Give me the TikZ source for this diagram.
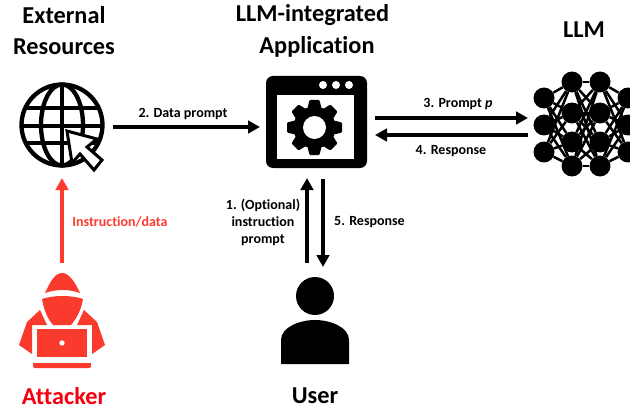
\documentclass[tikz,border=0pt]{standalone}
\usepackage{fontspec}
\setmainfont[Ligatures=NoCommon]{Carlito}
\usetikzlibrary{arrows.meta}
\definecolor{redarrow}{HTML}{FF3B30}
\definecolor{redtext}{HTML}{F5000F}
\definecolor{iconred}{HTML}{FB3A2E}
\tikzset{
  x=1pt,y=-1pt,
  title/.style={font=\bfseries\fontsize{24.3}{31}\selectfont,align=center,inner sep=0pt,text=black},
  lab/.style={font=\bfseries\fontsize{14}{17}\selectfont,align=center,inner sep=0pt,text=black},
  conn/.style={line width=3.8pt,-{Triangle[length=12pt,width=12.5pt]}},
  neuron/.style={circle,fill=black,minimum size=21pt,inner sep=0pt},
  syn/.style={line width=2.5pt},
  globeline/.style={line width=4.3pt,black},
}
\begin{document}
\begin{tikzpicture}
\useasboundingbox (0,0) rectangle (630,412);
\fill[white] (0,0) rectangle (630,412);
% titles
\node[title] (texternal) at (64,30.5) {External\\Resources};
\node[title] (tapp1) at (312.5,15.5) {LLM-integrated};
\node[title] (tapp2) at (317,46.5) {Application};
\node[title] (tllm) at (584,30) {LLM};
\node[title,text=redtext] (tattacker) at (64,396) {Attacker};
\node[title] (tuser) at (315,396) {User};
% globe
\node[circle,minimum size=84pt,inner sep=0pt] (globe) at (62,125) {};
\draw[globeline] (globe.center) circle (40.5);
\draw[globeline] (globe.center) ellipse (21 and 40.5);
\draw[globeline] (62,84) -- (62,166);
\draw[globeline] (27,108) -- (97,108) (21,126) -- (103,126) (27,143) -- (97,143);
\draw[line width=3pt,black,fill=white,line join=miter]
  (67,131) -- (97,139) -- (87,147) -- (102,160) -- (94,170) -- (80,154) -- (72,163) -- cycle;
% application window
\node[minimum width=101pt,minimum height=92pt,inner sep=0pt,rounded corners=7pt,fill=black,draw=none] (app) at (316.5,122) {};
\fill[white] (277,95) rectangle (354,159);
\foreach \x in {323,336,349} \fill[white] (\x,85) circle (4);
\begin{scope}[shift={(314.5,127.5)}]
  \fill[black] (0,0) circle (21);
  \foreach \a in {0,45,...,315}
    \fill[black,rotate=\a,rounded corners=1pt] (-7.5,-17) -- (-5,-27.5) -- (5,-27.5) -- (7.5,-17) -- cycle;
  \fill[white] (0,0) circle (11.5);
\end{scope}
% neural network
\foreach \n/\x/\y in {a1/544/98,a2/544/125,a3/544/152,
  b1/572/82,b2/572/113,b3/572/142,b4/572/166,
  c1/600/82,c2/600/113,c3/600/142,c4/600/166,
  d1/628/98,d2/628/125,d3/628/152}
  \node[neuron] (\n) at (\x,\y) {};
\foreach \s in {a1,a2,a3} \foreach \t in {b1,b2,b3,b4} \draw[syn] (\s) -- (\t);
\foreach \s in {b1,b2,b3,b4} \foreach \t in {c1,c2,c3,c4} \draw[syn] (\s) -- (\t);
\foreach \s in {c1,c2,c3,c4} \foreach \t in {d1,d2,d3} \draw[syn] (\s) -- (\t);
% user
\node[circle,fill=black,minimum size=38pt,inner sep=0pt] (userhead) at (315,296) {};
\fill[black] (281,364) -- (281,340) .. controls (281,327) and (300,320) .. (315,320)
  .. controls (330,320) and (349,327) .. (349,340) -- (349,364) -- cycle;
\coordinate (userA) at (307,263);
\coordinate (userB) at (323,179);
% attacker
\fill[iconred] (62,273) .. controls (55,273) and (50,282) .. (45,293)
  .. controls (56,289) and (69,289) .. (80,293) .. controls (75,282) and (69,273) .. (62,273) -- cycle;
\fill[iconred] (42,299) .. controls (54,295) and (71,295) .. (83,299)
  .. controls (81,311) and (76,319) .. (71,325) -- (53,325) .. controls (48,319) and (44,311) .. (42,299) -- cycle;
\fill[iconred] (40,310) -- (27,322) -- (19,345) -- (32,354) -- (32,325) -- (47,325) -- cycle;
\fill[iconred] (84,310) -- (97,322) -- (105,345) -- (92,354) -- (92,325) -- (77,325) -- cycle;
\fill[iconred] (37,329) rectangle (87,357);
\fill[white] (62,343) circle (2.7);
\fill[iconred,rounded corners=1.5pt] (33,363) rectangle (91,368);
\fill[iconred] (33,363) rectangle (91,365);
\coordinate (attackerTop) at (62,263);
\coordinate (globeBottom) at (62,178);
% connectors
\coordinate (dataA) at (113,127);
\coordinate (dataB) at (260,127);
\coordinate (promptA) at (375,118);
\coordinate (promptB) at (528,118);
\coordinate (respA) at (528,135);
\coordinate (respB) at (375,135);
\coordinate (userUp) at (307,178);
\coordinate (userDown) at (323,267);
\draw[conn] (dataA) -- (dataB);
\draw[conn] (promptA) -- (promptB);
\draw[conn] (respA) -- (respB);
\draw[conn] (userA) -- (userUp);
\draw[conn] (userB) -- (userDown);
\draw[conn,redarrow] (attackerTop) -- (globeBottom);
% labels
\node[lab] (l2) at (183,114) {2. Data prompt};
\node[lab] (l3) at (458,104) {3. Prompt \textit{p}};
\node[lab] (l4) at (451,151) {4. Response};
\node[lab] (l1) at (263,222) {1. (Optional)\\instruction\\prompt};
\node[lab] (l5) at (369.5,222) {5. Response};
\node[lab,text=redarrow] (li) at (120,222) {Instruction/data};
\end{tikzpicture}
\end{document}
